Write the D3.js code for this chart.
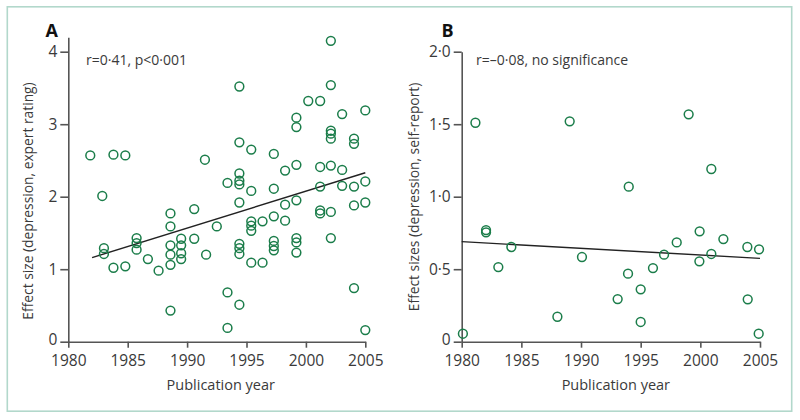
<!DOCTYPE html>
<html>
<head>
<meta charset="utf-8">
<script src="https://cdn.jsdelivr.net/npm/d3@7"></script>
<style>
  html, body { margin: 0; padding: 0; background: #fff; }
  svg { display: block; font-family: "Open Sans", "Noto Sans", sans-serif; }
</style>
</head>
<body>
<svg id="chart" width="800" height="420"></svg>
<script>
// ---- Data ----
const yearsA = [1981.85,1982.86,1983,1983,1983.8,1983.8,1984.8,1984.8,1985.75,1985.75,1985.75,1986.7,1987.6,
  1988.6,1988.6,1988.6,1988.6,1988.6,1988.6,1989.5,1989.5,1989.5,1989.5,1990.6,1990.6,1991.5,1991.6,1992.5,
  1993.4,1993.4,1993.4,1994.4,1994.4,1994.4,1994.4,1994.4,1994.4,1994.4,1994.4,1994.4,1994.4,
  1995.4,1995.4,1995.4,1995.4,1995.4,1995.4,1996.35,1996.35,1997.3,1997.3,1997.3,1997.3,1997.3,1997.3,
  1998.25,1998.25,1998.25,1999.2,1999.2,1999.2,1999.2,1999.2,1999.2,1999.2,2000.2,2001.2,2001.2,2001.2,2001.2,2001.2,
  2002.1,2002.1,2002.1,2002.1,2002.1,2002.1,2002.1,2002.1,2003.05,2003.05,2003.05,2004.05,2004.05,2004.05,2004.05,2004.05,
  2005,2005,2005,2005];
const valuesA = [2.57,2.01,1.29,1.21,1.02,2.58,2.57,1.04,1.43,1.36,1.27,1.14,0.98,
  1.77,1.59,1.33,1.20,1.06,0.43,1.42,1.33,1.22,1.14,1.83,1.42,2.51,1.20,1.59,
  2.19,0.68,0.19,3.52,2.75,2.32,2.22,2.17,1.92,1.35,1.29,1.21,0.51,
  2.65,2.08,1.66,1.60,1.53,1.09,1.66,1.09,2.59,2.11,1.73,1.39,1.32,1.26,
  2.36,1.89,1.67,3.09,2.96,2.44,1.95,1.43,1.37,1.23,3.32,3.32,2.41,2.14,1.81,1.77,
  4.15,3.54,2.91,2.87,2.80,2.43,1.79,1.43,3.14,2.37,2.15,2.80,2.73,2.14,1.88,0.74,
  3.19,2.21,1.92,0.16];
const trendYearsA = [1982, 2005];
const trendValuesA = [1.16, 2.33];

const yearsB = [1980.1,1981.15,1982.04,1982.04,1983.07,1984.16,1988.02,1989.05,1990.08,1993.07,1993.94,1994.0,
  1995.0,1995.0,1996.03,1996.96,1998.02,1999.02,1999.92,1999.94,2000.92,2000.92,2001.93,2003.94,2003.97,2004.92,2004.89];
const valuesB = [0.055,1.51,0.77,0.754,0.515,0.653,0.172,1.52,0.584,0.294,0.469,1.069,
  0.361,0.136,0.508,0.60,0.685,1.568,0.554,0.761,1.191,0.605,0.708,0.653,0.292,0.637,0.055];
const trendYearsB = [1980, 2005];
const trendValuesB = [0.69, 0.575];

const xTicks = [1980, 1985, 1990, 1995, 2000, 2005];
const yTicksA = [0, 1, 2, 3, 4];
const yTicksB = [0, 0.5, 1.0, 1.5, 2.0];
const yTickLabelsB = ["0", "0·5", "1·0", "1·5", "2·0"];

// ---- Drawing ----
const svg = d3.select("#chart");
const green = "#1b7d4a";
const axisColor = "#555";
const textColor = "#3a3a3a";

// outer frame
svg.append("rect").attr("x", 7.3).attr("y", 6.8).attr("width", 784.4).attr("height", 404.4)
  .attr("fill", "none").attr("stroke", "#b2d8cb").attr("stroke-width", 1.6);

function panel(opts) {
  const g = svg.append("g");
  const x = d3.scaleLinear().domain([1980, 2005]).range(opts.xRange);
  const y = d3.scaleLinear().domain(opts.yDomain).range(opts.yRange);

  const xAxis = d3.axisBottom(x).tickValues(xTicks).tickFormat(d3.format("d"))
    .tickSizeInner(6).tickSizeOuter(0).tickPadding(4);
  const yAxis = d3.axisLeft(y).tickValues(opts.yTicks)
    .tickFormat((d, i) => opts.yLabels[i]).tickSizeInner(8).tickSizeOuter(0).tickPadding(3);

  const gx = g.append("g").attr("transform", `translate(0,${opts.yRange[0]})`).call(xAxis);
  const gy = g.append("g").attr("transform", `translate(${opts.xRange[0]},0)`).call(yAxis);
  [gx, gy].forEach(a => {
    a.select(".domain").attr("stroke", axisColor).attr("stroke-width", 1.6);
    a.selectAll(".tick line").attr("stroke", axisColor).attr("stroke-width", 1.6);
    a.selectAll(".tick text").attr("fill", textColor).attr("font-size", 15.5)
      .attr("font-family", "'Open Sans', sans-serif");
  });
  gx.selectAll(".tick text").attr("dy", "0.9em");
  // keep the zero label clear of the first year label
  gy.selectAll(".tick text").filter(d => d === 0).attr("dy", "0.15em");

  // trend line
  const line = d3.line().x(d => x(d[0])).y(d => y(d[1]));
  g.append("path")
    .datum(opts.trendX.map((v, i) => [v, opts.trendY[i]]))
    .attr("d", line).attr("fill", "none").attr("stroke", "#222").attr("stroke-width", 1.4);

  // points
  g.selectAll("circle.pt").data(opts.xs.map((v, i) => [v, opts.ys[i]])).enter()
    .append("circle").attr("class", "pt")
    .attr("cx", d => x(d[0])).attr("cy", d => y(d[1])).attr("r", 4.4)
    .attr("fill", "none").attr("stroke", green).attr("stroke-width", 1.5);

  // axis titles
  g.append("text").attr("x", (opts.xRange[0] + opts.xRange[1]) / 2 + opts.xTitleDx).attr("y", 390)
    .attr("text-anchor", "middle").attr("fill", textColor).attr("font-size", 14.5)
    .text("Publication year");
  g.append("text").attr("transform", `translate(${opts.yTitleX},${opts.yTitleY}) rotate(-90)`)
    .attr("text-anchor", "middle").attr("fill", textColor).attr("font-size", 13.8)
    .text(opts.yTitle);

  // panel letter
  g.append("text").attr("x", opts.letterX).attr("y", 37).attr("font-weight", "bold")
    .attr("font-size", 18).attr("fill", "#111").text(opts.letter);
  // annotation
  g.append("text").attr("x", opts.annX).attr("y", 65).attr("font-size", 14)
    .attr("fill", textColor).text(opts.ann);
}

panel({
  xRange: [68.3, 365.3], yDomain: [0, 4.2], yRange: [341.7, 37.2],
  yTicks: yTicksA, yLabels: yTicksA.map(String),
  xs: yearsA, ys: valuesA, trendX: trendYearsA, trendY: trendValuesA,
  yTitle: "Effect size (depression, expert rating)", yTitleX: 33, yTitleY: 201,
  xTitleDx: 4, letter: "A", letterX: 45.5, ann: "r=0·41, p<0·001", annX: 86
});
panel({
  xRange: [461.7, 760], yDomain: [0, 2], yRange: [341.7, 51.7],
  yTicks: yTicksB, yLabels: yTickLabelsB,
  xs: yearsB, ys: valuesB, trendX: trendYearsB, trendY: trendValuesB,
  yTitle: "Effect sizes (depression, self-report)", yTitleX: 419, yTitleY: 197,
  xTitleDx: 5, letter: "B", letterX: 441.5, ann: "r=–0·08, no significance", annX: 476
});
</script>
</body>
</html>
